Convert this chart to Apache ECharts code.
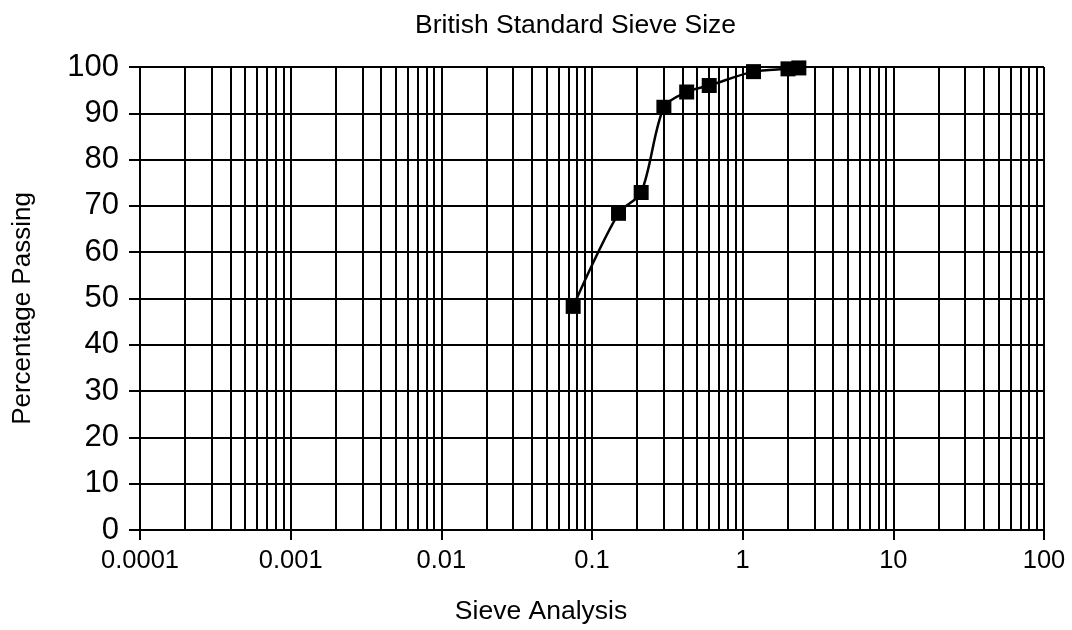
<!DOCTYPE html>
<html>
<head>
<meta charset="utf-8">
<script src="https://cdn.jsdelivr.net/npm/echarts@6/dist/echarts.min.js"></script>
<style>
html,body{margin:0;padding:0;background:#fff;}
#chart{width:1072px;height:630px;}
</style>
</head>
<body>
<div id="chart"></div>
<script>
// Data
const sieveSizes = [0.075, 0.15, 0.212, 0.3, 0.425, 0.6, 1.18, 2.0, 2.36];
const percentPassing = [48.3, 68.4, 72.9, 91.3, 94.6, 96.0, 99.0, 99.6, 99.8];
const xTickLabels = ['0.0001', '0.001', '0.01', '0.1', '1', '10', '100'];
const yTicks = [0, 10, 20, 30, 40, 50, 60, 70, 80, 90, 100];

const xMin = 0.0001, xMax = 100, yMin = 0, yMax = 100;
const FONT = '"Liberation Sans", Arial, sans-serif';

// minor log grid positions (2..9 x each decade)
const minorValues = [];
for (let d = -4; d < 2; d++) {
  for (let m = 2; m <= 9; m++) {
    minorValues.push(m * Math.pow(10, d));
  }
}

const chart = echarts.init(document.getElementById('chart'), null, { renderer: 'canvas' });
chart.setOption({
  animation: false,
  backgroundColor: '#fff',
  title: {
    text: 'British Standard Sieve Size',
    left: 410,
    top: 7,
    textStyle: { fontFamily: FONT, fontSize: 26.5, fontWeight: 'normal', color: '#000' }
  },
  grid: { left: 140, right: 28, top: 67, bottom: 100, containLabel: false },
  xAxis: {
    type: 'log',
    logBase: 10,
    min: xMin,
    max: xMax,
    splitNumber: 6,
    name: 'Sieve Analysis',
    nameLocation: 'middle',
    nameGap: 68,
    nameTextStyle: { fontFamily: FONT, fontSize: 26.5, color: '#000', padding: [0, 102, 0, 0] },
    axisLine: { show: true, lineStyle: { color: '#000', width: 2 } },
    axisTick: { show: true, inside: false, length: 10, lineStyle: { color: '#000', width: 2 } },
    axisLabel: {
      fontFamily: FONT, fontSize: 25.5, color: '#000', margin: 18,
      formatter: function (v) {
        const i = Math.round(Math.log10(v)) + 4;
        return xTickLabels[i] !== undefined ? xTickLabels[i] : '';
      }
    },
    splitLine: { show: true, lineStyle: { color: '#000', width: 2 } }
  },
  yAxis: {
    type: 'value',
    min: yMin,
    max: yMax,
    interval: 10,
    name: 'Percentage Passing',
    nameLocation: 'middle',
    nameGap: 104,
    nameTextStyle: { fontFamily: FONT, fontSize: 26, color: '#000', padding: [0, 20, 0, 0] },
    axisLine: { show: true, lineStyle: { color: '#000', width: 2 } },
    axisTick: { show: true, inside: false, length: 11, lineStyle: { color: '#000', width: 2 } },
    axisLabel: {
      fontFamily: FONT, fontSize: 31, color: '#000', margin: 21,
      formatter: function (v) { return yTicks.indexOf(v) >= 0 ? String(v) : ''; }
    },
    splitLine: { show: true, lineStyle: { color: '#000', width: 2 } }
  },
  series: [
    {
      type: 'custom',
      silent: true,
      clip: true,
      z: 1,
      data: minorValues,
      encode: { x: 0 },
      renderItem: function (params, api) {
        const v = api.value(0);
        const p1 = api.coord([v, yMin]);
        const p2 = api.coord([v, yMax]);
        const x = Math.round(p1[0]);
        return {
          type: 'line',
          shape: { x1: x, y1: p1[1], x2: x, y2: p2[1] },
          style: { stroke: '#000', lineWidth: 2 }
        };
      }
    },
    {
      type: 'line',
      data: sieveSizes.map((s, i) => [s, percentPassing[i]]),
      smooth: 0.3,
      symbol: 'rect',
      symbolSize: 15,
      itemStyle: { color: '#000' },
      lineStyle: { color: '#000', width: 2.5 },
      z: 5
    }
  ]
});
</script>
</body>
</html>
